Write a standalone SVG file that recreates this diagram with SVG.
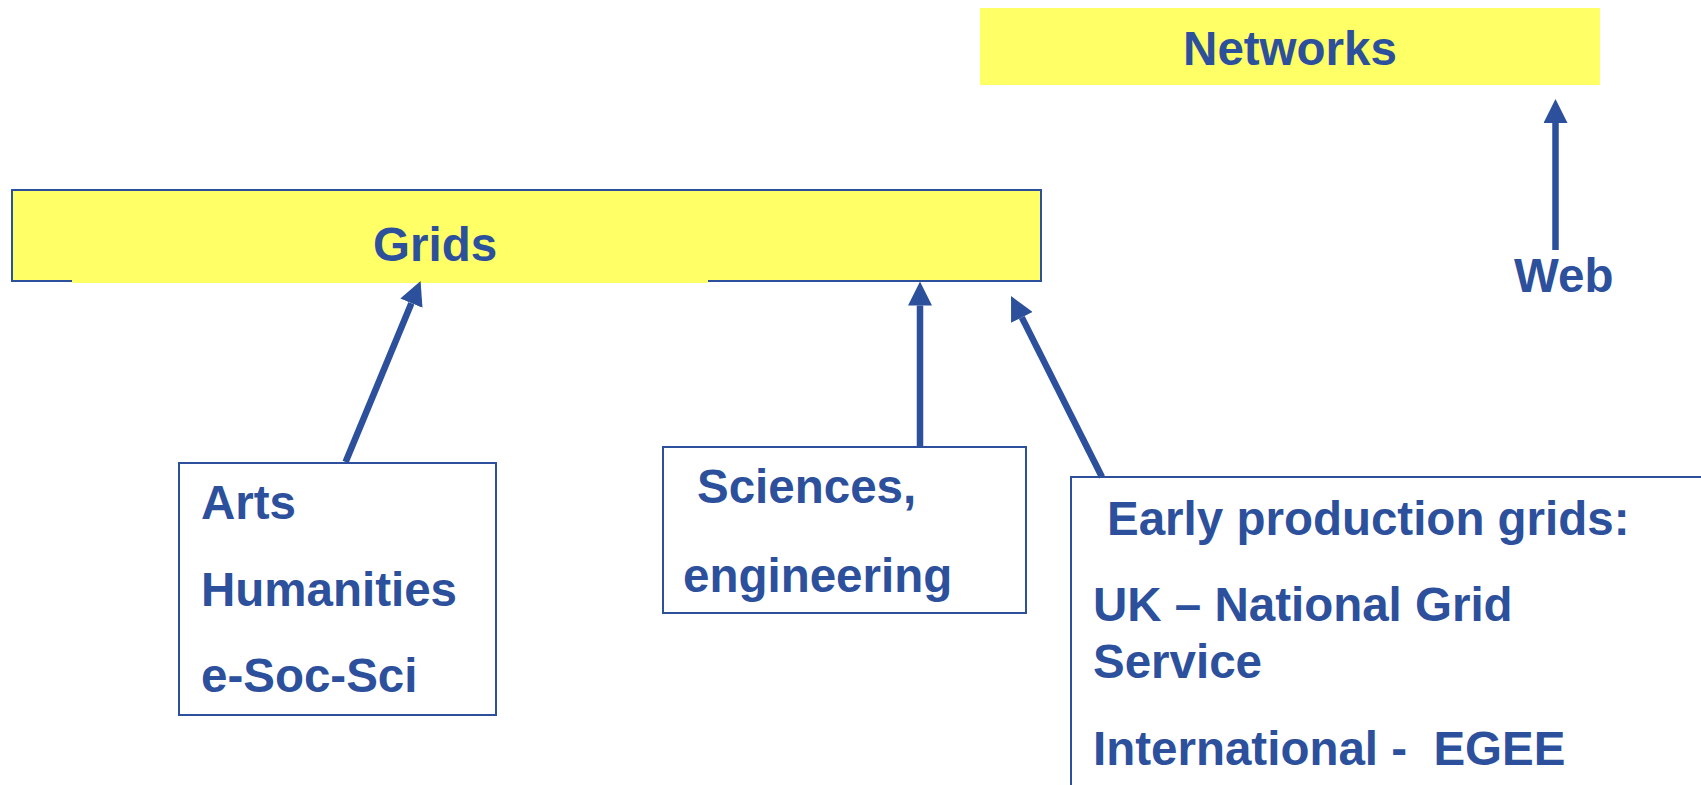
<svg xmlns="http://www.w3.org/2000/svg" width="1701" height="785" viewBox="0 0 1701 785">
  <style>
    .t { font-family: "Liberation Sans", Arial, sans-serif; font-weight: bold; font-size: 47.5px; fill: #2C509C; }
    .box { fill: #FFFFFF; stroke: #2C509C; stroke-width: 2; }
    .ybox { fill: #FFFF66; }
    .conn { stroke: #2C509C; stroke-width: 6.5; fill: none; }
  </style>
  <defs>
    <marker id="ah" markerUnits="userSpaceOnUse" markerWidth="24" markerHeight="24" viewBox="0 0 24 24" refX="0" refY="12" orient="auto">
      <path d="M0,0 L24,12 L0,24 z" fill="#2C509C"/>
    </marker>
  </defs>
  <rect width="1701" height="785" fill="#FFFFFF"/>

  <g id="networks">
    <rect class="ybox" x="980" y="8" width="620" height="77"/>
    <text class="t" x="1290" y="65" text-anchor="middle">Networks</text>
  </g>

  <g id="grids">
    <rect x="12" y="190" width="1029" height="91" fill="#FFFF66" stroke="#2C509C" stroke-width="2"/>
    <rect class="ybox" x="72" y="280" width="636" height="3"/>
    <text class="t" x="373" y="261">Grids</text>
  </g>

  <g id="web">
    <text class="t" x="1514" y="292">Web</text>
  </g>

  <g id="arts">
    <rect class="box" x="179" y="463" width="317" height="252"/>
    <text class="t" x="201" y="519">Arts</text>
    <text class="t" x="201" y="606">Humanities</text>
    <text class="t" x="201" y="692">e-Soc-Sci</text>
  </g>

  <g id="sciences">
    <rect class="box" x="663" y="447" width="363" height="166"/>
    <text class="t" x="697" y="503">Sciences,</text>
    <text class="t" x="683" y="592">engineering</text>
  </g>

  <g id="early">
    <rect class="box" x="1071" y="477" width="700" height="400"/>
    <text class="t" x="1107" y="535">Early production grids:</text>
    <text class="t" x="1093" y="621">UK – National Grid</text>
    <text class="t" x="1093" y="678">Service</text>
    <text class="t" x="1093" y="765" xml:space="preserve">International -  EGEE</text>
  </g>

  <g id="connectors">
    <line class="conn" x1="345.6" y1="462" x2="411.4" y2="303.2" marker-end="url(#ah)"/>
    <line class="conn" x1="920" y1="447" x2="920" y2="305.5" marker-end="url(#ah)"/>
    <line class="conn" x1="1102" y1="477" x2="1021.8" y2="317.4" marker-end="url(#ah)"/>
    <line class="conn" x1="1555.5" y1="250" x2="1555.5" y2="123" marker-end="url(#ah)"/>
  </g>
</svg>
